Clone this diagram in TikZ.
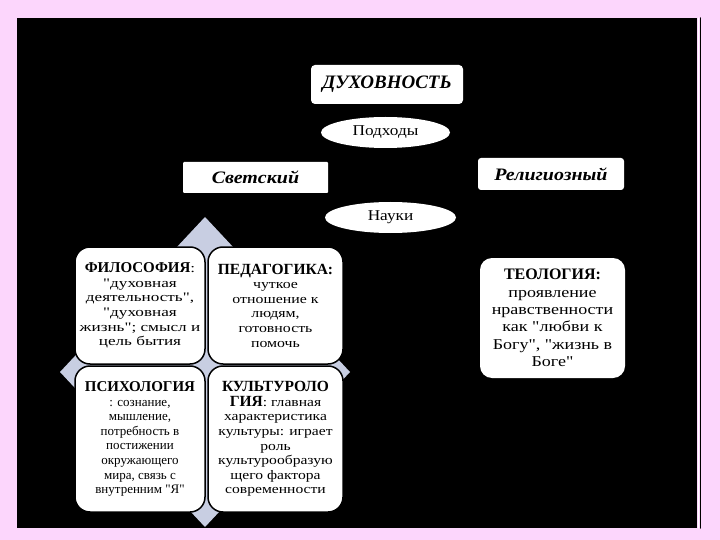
\documentclass[tikz,border=0pt]{standalone}
\usepackage{fontspec}
\setmainfont{Liberation Serif}[Ligatures=TeXOff]
\usetikzlibrary{shapes.geometric}

\definecolor{fonrozov}{RGB}{252,214,252}
\definecolor{rombcvet}{RGB}{200,206,226}

\begin{document}
\begin{tikzpicture}[x=1pt, y=-1pt, line join=round, line cap=round,
    zagolovok/.style={fill=white, rounded corners=4pt, inner sep=0pt, align=center},
    ovalnyi/.style={ellipse, fill=white, inner sep=0pt,
        font=\fontsize{15}{17}\selectfont\addfontfeatures{FakeStretch=1.15}},
    kletka/.style={fill=white, draw=black, line width=1.5pt, rounded corners=15pt,
        inner sep=2pt, align=center,
        font=\fontsize{13}{14.6}\selectfont\addfontfeatures{FakeStretch=#1}},
    kletka/.default=1]
    % поля и чёрный фон слайда
    \useasboundingbox (0,0) rectangle (720,540);
    \fill[fonrozov] (0,0) rectangle (720,540);
    \fill[black] (17,18) rectangle (697,528);
    \draw[white, line width=1pt] (698,18) -- (698,528);
    \draw[black, line width=1.5pt] (700.5,18) -- (700.5,528);

    % 1. верхний уровень
    \node[zagolovok, minimum width=152, minimum height=39,
        font=\fontsize{19}{21}\selectfont\bfseries\itshape] (duh) at (387,84.5) {ДУХОВНОСТЬ};
    \node[ovalnyi, minimum width=129, minimum height=31] (podh) at (385.5,132.5) {Подходы};

    % 2. два подхода
    \node[zagolovok, rounded corners=1pt, minimum width=145, minimum height=31,
        font=\fontsize{17.5}{19}\selectfont\bfseries\itshape\addfontfeatures{FakeStretch=1.14}] (svet) at (255.5,177.5) {Светский};
    \node[zagolovok, rounded corners=3pt, minimum width=146, minimum height=32,
        font=\fontsize{17.5}{19}\selectfont\bfseries\itshape\addfontfeatures{FakeStretch=1.14}] (relig) at (551,174) {Религиозный};
    \node[ovalnyi, minimum width=131, minimum height=31] (nauki) at (390.5,217.5) {Науки};

    % 3. ромб под матрицей наук
    \fill[rombcvet] (205,217) -- (350,372) -- (205,527) -- (60,372) -- cycle;

    % 4. матрица наук (светский подход)
    \node[kletka=1.32, minimum width=130, minimum height=117] (filos) at (140,305.5)
        {{\rmfamily\fontsize{15}{17}\selectfont\bfseries ФИЛОСОФИЯ}:\\"духовная\\деятельность",\\"духовная\\жизнь"; смысл и\\цель бытия};
    \node[kletka=1.22, minimum width=135, minimum height=117] (pedag) at (275.5,305.5)
        {{\rmfamily\fontsize{15.5}{17}\selectfont\bfseries ПЕДАГОГИКА:}\\чуткое\\отношение к\\людям,\\готовность\\помочь};
    \node[kletka, minimum width=130, minimum height=146] (psih) at (140,439)
        {{\rmfamily\fontsize{15}{17}\selectfont\bfseries ПСИХОЛОГИЯ}\\: сознание,\\мышление,\\потребность в\\постижении\\окружающего\\мира, связь с\\внутренним "Я"};
    \node[kletka=1.2, minimum width=135, minimum height=146] (kult) at (275.5,439)
        {{\rmfamily\fontsize{15.5}{17}\selectfont\bfseries КУЛЬТУРОЛО}\\{\rmfamily\fontsize{15.5}{17}\selectfont\bfseries ГИЯ}: главная\\характеристика\\культуры: играет\\роль\\культурообразую\\щего фактора\\современности};

    % 5. религиозный подход
    \node[kletka, draw=none, rounded corners=12pt, minimum width=145, minimum height=120,
        font=\fontsize{15}{17.4}\selectfont\addfontfeatures{FakeStretch=1.2}] (teol) at (552.5,318)
        {{\rmfamily\fontsize{16}{18}\selectfont\bfseries ТЕОЛОГИЯ:}\\проявление\\нравственности\\как "любви к\\Богу", "жизнь в\\Боге"};
\end{tikzpicture}
\end{document}
